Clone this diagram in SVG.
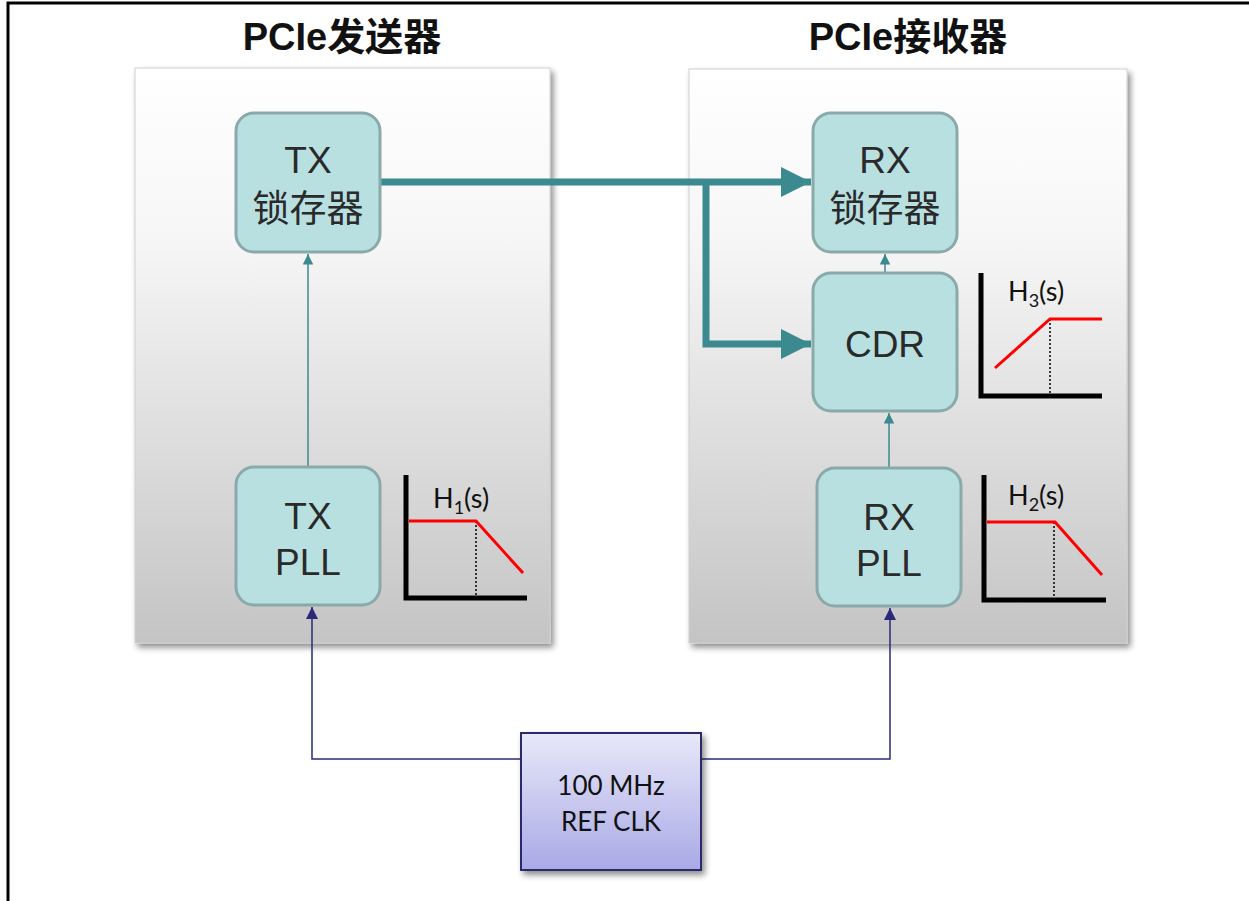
<svg xmlns="http://www.w3.org/2000/svg" width="1249" height="901" viewBox="0 0 1249 901">
<style>
.title{font-family:"Liberation Sans","Noto Sans CJK SC",sans-serif;font-weight:bold;font-size:38px;fill:#111;text-anchor:middle}
.nt{font-family:"Liberation Sans","Noto Sans CJK SC",sans-serif;font-size:37px;fill:#2a2a2a;text-anchor:middle}
.node{fill:#b9e0e1;stroke:#8aa9aa;stroke-width:3}
.panel{stroke:#cfcfcf;stroke-width:1}
.thick{fill:none;stroke:#3a8a8f;stroke-width:7}
.thin{fill:none;stroke:#3a8a8f;stroke-width:1.5}
.navy{fill:none;stroke:#2a2a78;stroke-width:1.5}
.ax{fill:none;stroke:#000;stroke-width:5}
.red{fill:none;stroke:#f00;stroke-width:3}
.dot{fill:none;stroke:#000;stroke-width:1.5;stroke-dasharray:2 2}
.hl{font-family:"Lato","Liberation Sans",sans-serif;font-size:27px;fill:#111}
.ck{font-family:"Lato","Liberation Sans",sans-serif;font-size:26px;fill:#111;text-anchor:middle}
</style>
<defs>
<linearGradient id="pg" x1="0" y1="0" x2="0" y2="1">
<stop offset="0" stop-color="#ffffff"/><stop offset="0.3" stop-color="#f6f6f6"/><stop offset="1" stop-color="#c4c4c4"/>
</linearGradient>
<linearGradient id="cg" x1="0" y1="0" x2="0" y2="1">
<stop offset="0" stop-color="#e8e8f9"/><stop offset="1" stop-color="#a9a9e6"/>
</linearGradient>
<filter id="sh" x="-10%" y="-10%" width="125%" height="125%">
<feGaussianBlur in="SourceAlpha" stdDeviation="3"/><feOffset dx="3" dy="4"/>
<feComponentTransfer><feFuncA type="linear" slope="0.45"/></feComponentTransfer>
<feMerge><feMergeNode/><feMergeNode in="SourceGraphic"/></feMerge>
</filter>
<marker id="ab" viewBox="0 0 10 10" refX="10" refY="5" markerWidth="4.3" markerHeight="4.3" orient="auto" markerUnits="strokeWidth">
<path d="M0,0L10,5L0,10z" fill="#3a8a8f"/></marker>
<marker id="as" viewBox="0 0 10 10" refX="10" refY="5" markerWidth="7" markerHeight="7" orient="auto" markerUnits="strokeWidth">
<path d="M0,0L10,5L0,10z" fill="#3a8a8f"/></marker>
<marker id="an" viewBox="0 0 10 10" refX="10" refY="5" markerWidth="8" markerHeight="8" orient="auto" markerUnits="strokeWidth">
<path d="M0,0L10,5L0,10z" fill="#2a2a78"/></marker>
</defs>
<rect width="1249" height="901" fill="#fff"/>
<path d="M8,901V3H1249" fill="none" stroke="#000" stroke-width="3"/>
<text class="title" x="342" y="50">PCIe发送器</text>
<text class="title" x="908" y="50">PCIe接收器</text>
<g id="tx-panel"><rect class="panel" x="135" y="68" width="415" height="575" fill="url(#pg)" filter="url(#sh)"/></g>
<g id="rx-panel"><rect class="panel" x="689" y="69" width="438" height="574" fill="url(#pg)" filter="url(#sh)"/></g>
<g id="connectors">
<path class="thick" d="M380,182H811" marker-end="url(#ab)"/>
<path class="thick" d="M706,182V344H811" marker-end="url(#ab)"/>
<path class="thin" d="M308,466V254" marker-end="url(#as)"/>
<path class="thin" d="M885,272V254" marker-end="url(#as)"/>
<path class="thin" d="M889,467V413" marker-end="url(#as)"/>
<path class="navy" d="M521,759H312V607" marker-end="url(#an)"/>
<path class="navy" d="M701,759H890V608" marker-end="url(#an)"/>
</g>
<g id="tx-latch"><rect class="node" x="236" y="113" width="144" height="139" rx="18"/>
<text class="nt" x="308" y="173">TX</text><text class="nt" x="308" y="222">锁存器</text></g>
<g id="tx-pll"><rect class="node" x="236" y="467" width="144" height="138" rx="18"/>
<text class="nt" x="308" y="529">TX</text><text class="nt" x="308" y="575">PLL</text></g>
<g id="rx-latch"><rect class="node" x="813" y="113" width="144" height="139" rx="18"/>
<text class="nt" x="885" y="173">RX</text><text class="nt" x="885" y="222">锁存器</text></g>
<g id="cdr"><rect class="node" x="813" y="273" width="144" height="138" rx="18"/>
<text class="nt" x="885" y="357">CDR</text></g>
<g id="rx-pll"><rect class="node" x="817" y="468" width="144" height="138" rx="18"/>
<text class="nt" x="889" y="530">RX</text><text class="nt" x="889" y="576">PLL</text></g>
<g id="refclk"><rect x="521" y="733" width="180" height="137" fill="url(#cg)" stroke="#2a2a6a" stroke-width="2" filter="url(#sh)"/>
<text class="ck" x="611" y="795">100 MHz</text><text class="ck" x="611" y="831">REF CLK</text></g>
<g id="h1">
<path class="ax" d="M406,475V598H527"/>
<path class="dot" d="M476,521V596"/>
<path class="red" d="M409,521H476L523,573"/>
<text class="hl" x="433" y="508">H<tspan font-size="18" dy="6">1</tspan><tspan dy="-6">(s)</tspan></text>
</g>
<g id="h3">
<path class="ax" d="M981,273V396H1102"/>
<path class="dot" d="M1050,319V394"/>
<path class="red" d="M995,368L1050,319H1102"/>
<text class="hl" x="1008" y="301">H<tspan font-size="18" dy="6">3</tspan><tspan dy="-6">(s)</tspan></text>
</g>
<g id="h2">
<path class="ax" d="M984,475V600H1106"/>
<path class="dot" d="M1054,522V598"/>
<path class="red" d="M987,522H1055L1102,575"/>
<text class="hl" x="1008" y="505">H<tspan font-size="18" dy="6">2</tspan><tspan dy="-6">(s)</tspan></text>
</g>
</svg>
